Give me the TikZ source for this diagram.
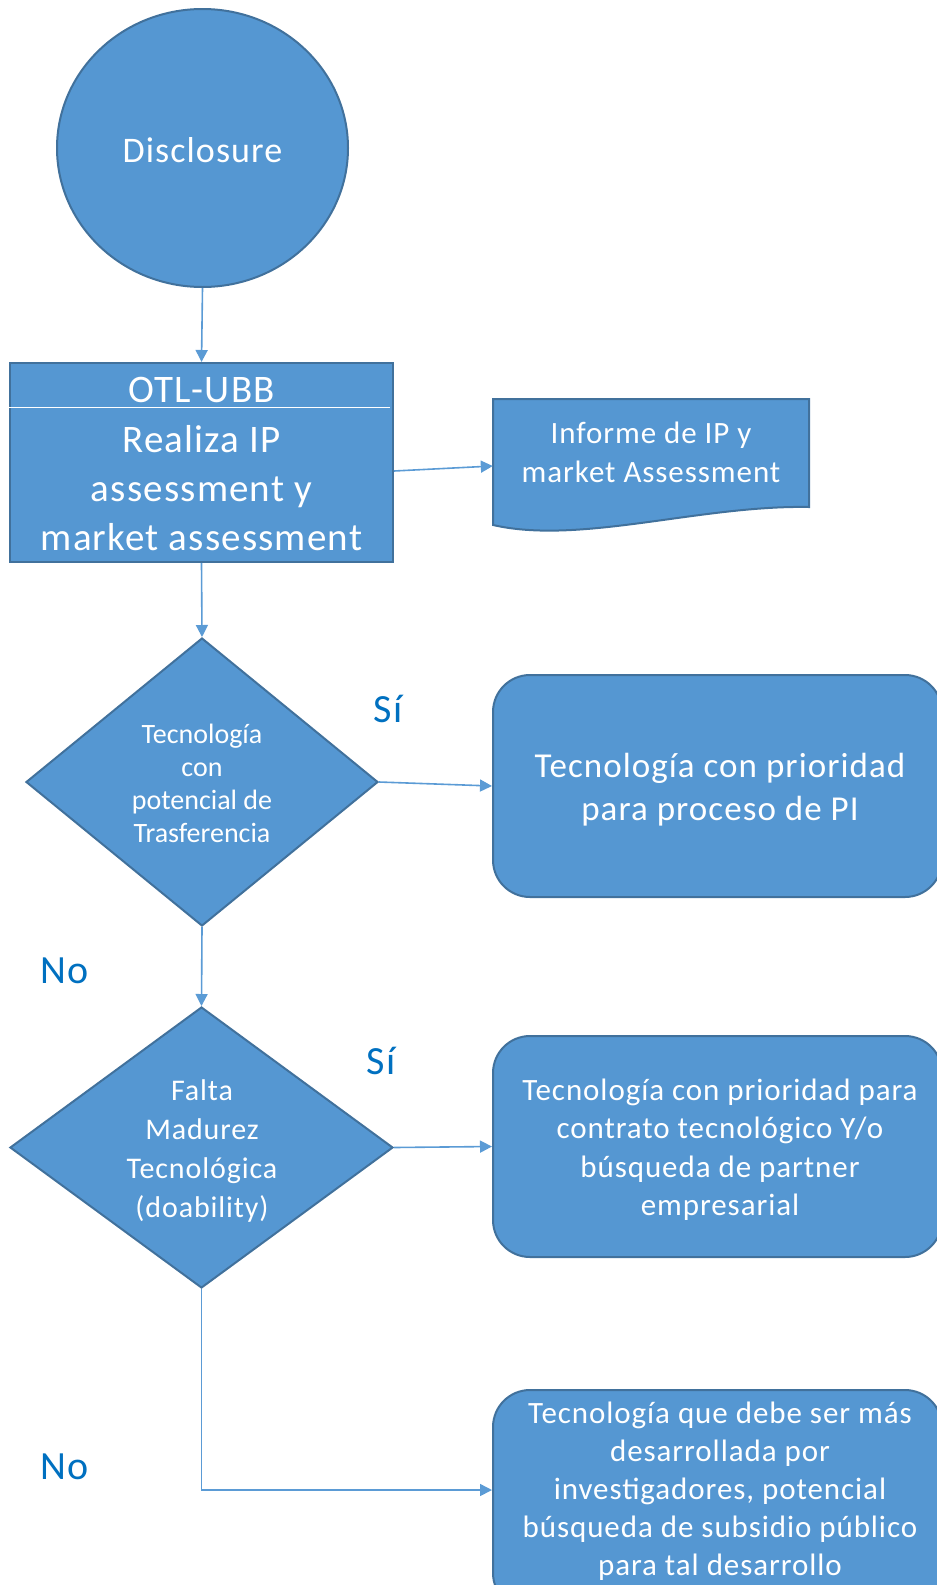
\documentclass[tikz,border=0pt]{standalone}
\usepackage{fontspec}
\setmainfont{Carlito}[LetterSpace=3]
\newfontfamily\plainfont{Carlito}
\usetikzlibrary{shapes.geometric,arrows.meta}
\definecolor{fillb}{HTML}{5597D2}
\definecolor{edgeb}{HTML}{41719C}
\definecolor{lineb}{HTML}{5B9BD5}
\definecolor{labb}{HTML}{0070C0}
\newcommand{\mlines}[1]{\begin{tabular}[t]{@{}c@{}}#1\end{tabular}}
\begin{document}
\begin{tikzpicture}[x=1pt,y=-1pt,
  shp/.style={fill=fillb, draw=edgeb, line width=2pt},
  conn/.style={draw=lineb, line width=1.6pt, -{Triangle[length=12pt,width=12pt]}},
  txt/.style={text=white, anchor=base, inner sep=0pt},
  lab/.style={text=labb, anchor=base, inner sep=0pt, font=\fontsize{40}{48}\selectfont},
  box/.style={shp, rectangle, rounded corners=37pt, inner sep=0pt}]
\useasboundingbox (0,0) rectangle (937,1585);

% shapes
\node[shp, ellipse, minimum width=291pt, minimum height=278pt, inner sep=0pt] (disc) at (202.5,148) {};
\node[txt, font=\fontsize{36}{44}\selectfont] (discT) at (202.5,162) {Disclosure};

\node[shp, rectangle, minimum width=383pt, minimum height=199pt, inner sep=0pt] (otl) at (201.5,462.5) {};
\draw[white, line width=1.2pt] ([yshift=-45.5pt]otl.north west) -- ([xshift=-4pt,yshift=-45.5pt]otl.north east);
\node[txt, font=\fontsize{39}{49}\selectfont] (otlT) at (201.5,402) {OTL-UBB};
\node[txt, font=\fontsize{39}{49}\selectfont] (otlB) at (201.5,452) {\mlines{Realiza IP\\assessment y\\market assessment}};

\node[rectangle, minimum width=316pt, minimum height=108pt, inner sep=0pt] (inf) at (651,453) {};
\draw[shp] (493,525) -- (493,399) -- (809,399) -- (809,507) .. controls (700,505) and (580,545) .. (493,525) -- cycle;
\node[txt, font=\fontsize{31}{39}\selectfont] (infT) at (651,443) {\mlines{Informe de IP y\\market Assessment}};

\node[shp, diamond, minimum width=352pt, minimum height=288pt, inner sep=0pt, aspect=1.22] (d1) at (202,782) {};
\node[txt, font=\plainfont\fontsize{28}{33}\selectfont] (d1T) at (202,743) {\mlines{Tecnología\\con\\potencial de\\Trasferencia}};

\node[box, minimum width=449pt, minimum height=222pt] (pi) at (717.5,786) {};
\node[txt, font=\fontsize{35}{43}\selectfont] (piT) at (720,777) {\mlines{Tecnología con prioridad\\para proceso de PI}};

\node[shp, diamond, minimum width=383pt, minimum height=281pt, inner sep=0pt, aspect=1.36] (d2) at (201.5,1147.5) {};
\node[txt, font=\fontsize{30}{39}\selectfont] (d2T) at (202,1100) {\mlines{Falta\\Madurez\\Tecnológica\\(doability)}};

\node[box, minimum width=449pt, minimum height=221pt] (ct) at (717.5,1146.5) {};
\node[txt, font=\fontsize{31}{38.5}\selectfont] (ctT) at (720,1100) {\mlines{Tecnología con prioridad para\\contrato tecnológico Y/o\\búsqueda de partner\\empresarial}};

\node[box, minimum width=449pt, minimum height=220pt] (dev) at (717.5,1500) {};
\node[txt, font=\fontsize{31}{38}\selectfont] (devT) at (720,1423) {\mlines{Tecnología que debe ser más\\desarrollada por\\investigadores, potencial\\búsqueda de subsidio público\\para tal desarrollo}};

% labels
\node[lab] (si1) at (388,722) {Sí};
\node[lab] (si2) at (381,1074) {Sí};
\node[lab] (no1) at (64.5,983) {No};
\node[lab] (no2) at (65,1479) {No};

% connectors
\draw[conn] (disc.south) -- (otl.north);
\draw[conn] (otl.south) -- (d1.north);
\draw[conn] (d1.south) -- (d2.north);
\draw[conn] ([yshift=-8.5pt]otl.east) -- ([yshift=-13pt]inf.west);
\draw[conn] (d1.east) -- (pi.west);
\draw[conn] (d2.east) -- (ct.west);
\draw[conn] (d2.south) |- ([yshift=10pt]dev.west);
\end{tikzpicture}
\end{document}
